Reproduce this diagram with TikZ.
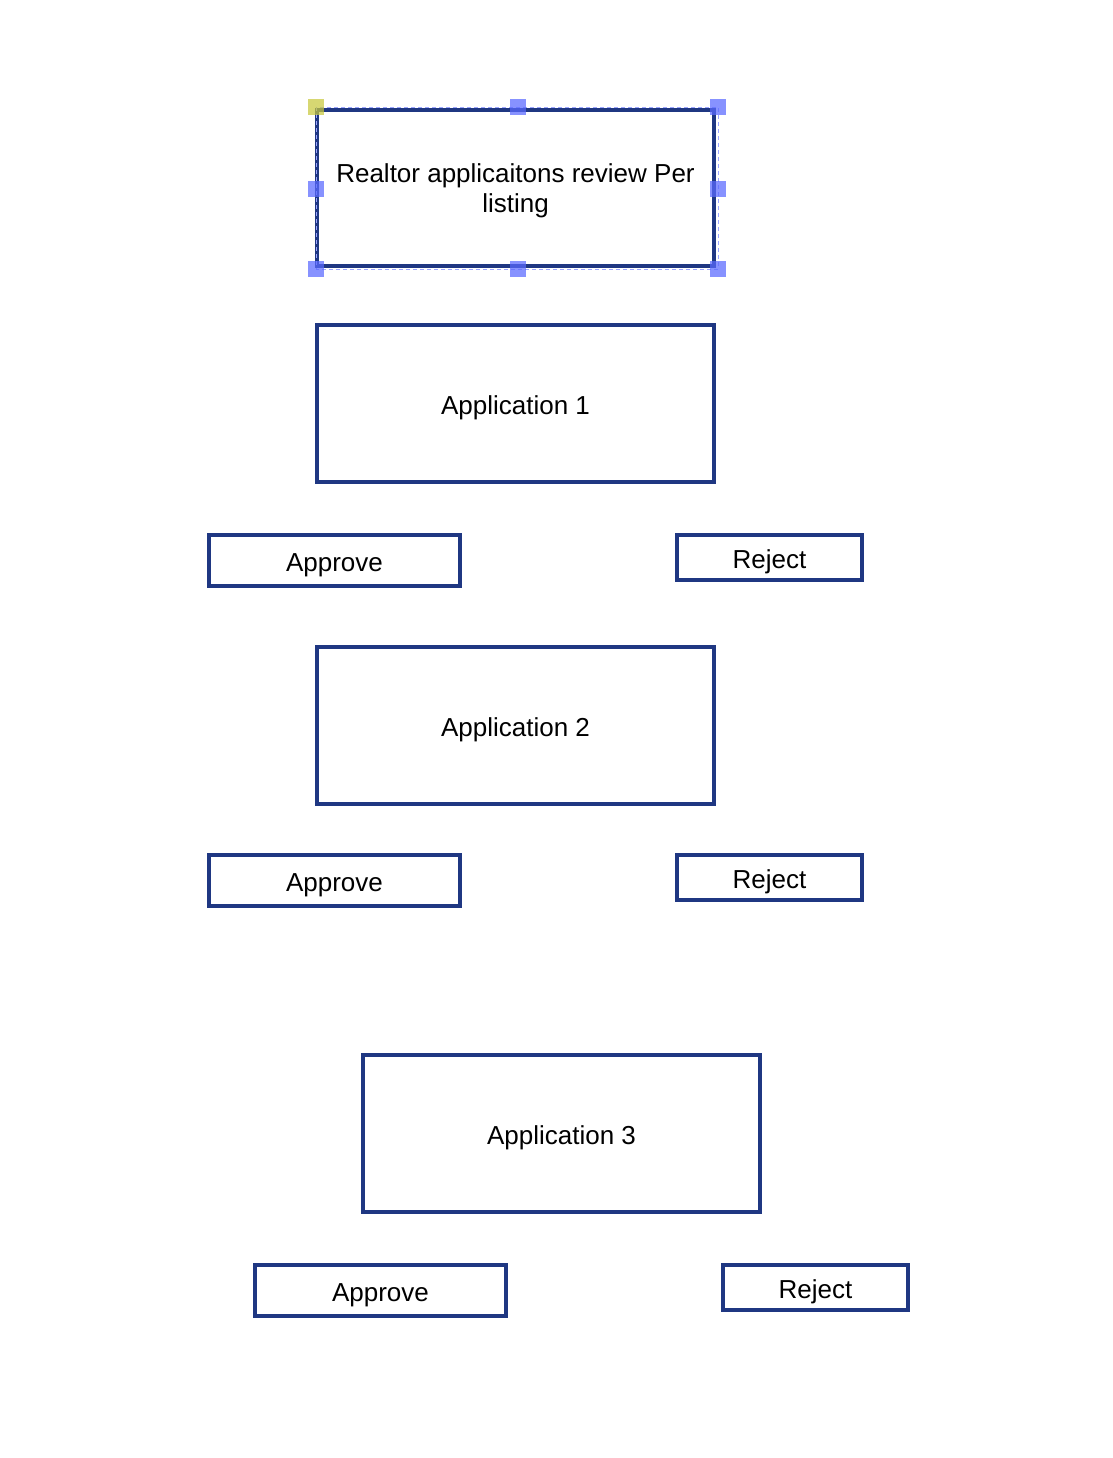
\documentclass[tikz,border=0pt]{standalone}
\usepackage{fontspec}
\setmainfont{Liberation Sans}
\definecolor{navy}{RGB}{31,55,130}
\definecolor{handleblue}{RGB}{90,105,255}
\definecolor{handleyellow}{RGB}{200,200,60}
\begin{document}
\begin{tikzpicture}[x=1pt,y=-1pt,
  box/.style={draw=navy,line width=3.4pt,fill=white,inner sep=0pt,text depth=0pt,
    font=\fontsize{26}{30}\selectfont,align=center},
  oneline/.style={text height=21pt},
  appbox/.style={box,minimum width=397pt,minimum height=157pt},
  approvebox/.style={box,oneline,minimum width=251pt,minimum height=51pt},
  rejectbox/.style={box,oneline,minimum width=185pt,minimum height=45pt},
  handle/.style={fill=handleblue,fill opacity=0.72,draw=none,minimum size=16pt,inner sep=0pt},
  handlefirst/.style={handle,fill=handleyellow}]
\useasboundingbox[fill=white] (0,0) rectangle (1112,1458);

% review header box
\node[appbox,minimum height=156pt] (head) at (515.5,188) {Realtor applicaitons review Per\\listing};

% application 1 with its decisions
\node[appbox,oneline] (app1) at (515.5,403.5) {Application 1};
\node[approvebox] (ok1) at (334.5,560.5) {Approve};
\node[rejectbox] (no1) at (769.5,557.5) {Reject};

% application 2 with its decisions
\node[appbox,oneline] (app2) at (515.5,725.5) {Application 2};
\node[approvebox] (ok2) at (334.5,880.5) {Approve};
\node[rejectbox] (no2) at (769.5,877.5) {Reject};

% application 3 with its decisions
\node[appbox,oneline] (app3) at (561.5,1133.5) {Application 3};
\node[approvebox] (ok3) at (380.5,1290.5) {Approve};
\node[rejectbox] (no3) at (815.5,1287.5) {Reject};

% selection frame and resize handles on the header box
\draw[handleblue!60,line width=0.8pt,dash pattern=on 4pt off 3pt] (316,107) rectangle (718,269);
\node[handlefirst] (h1) at (316,107) {};
\node[handle] (h2) at (518,107) {};
\node[handle] (h3) at (718,107) {};
\node[handle] (h4) at (316,189) {};
\node[handle] (h5) at (718,189) {};
\node[handle] (h6) at (316,269) {};
\node[handle] (h7) at (518,269) {};
\node[handle] (h8) at (718,269) {};
\end{tikzpicture}
\end{document}
